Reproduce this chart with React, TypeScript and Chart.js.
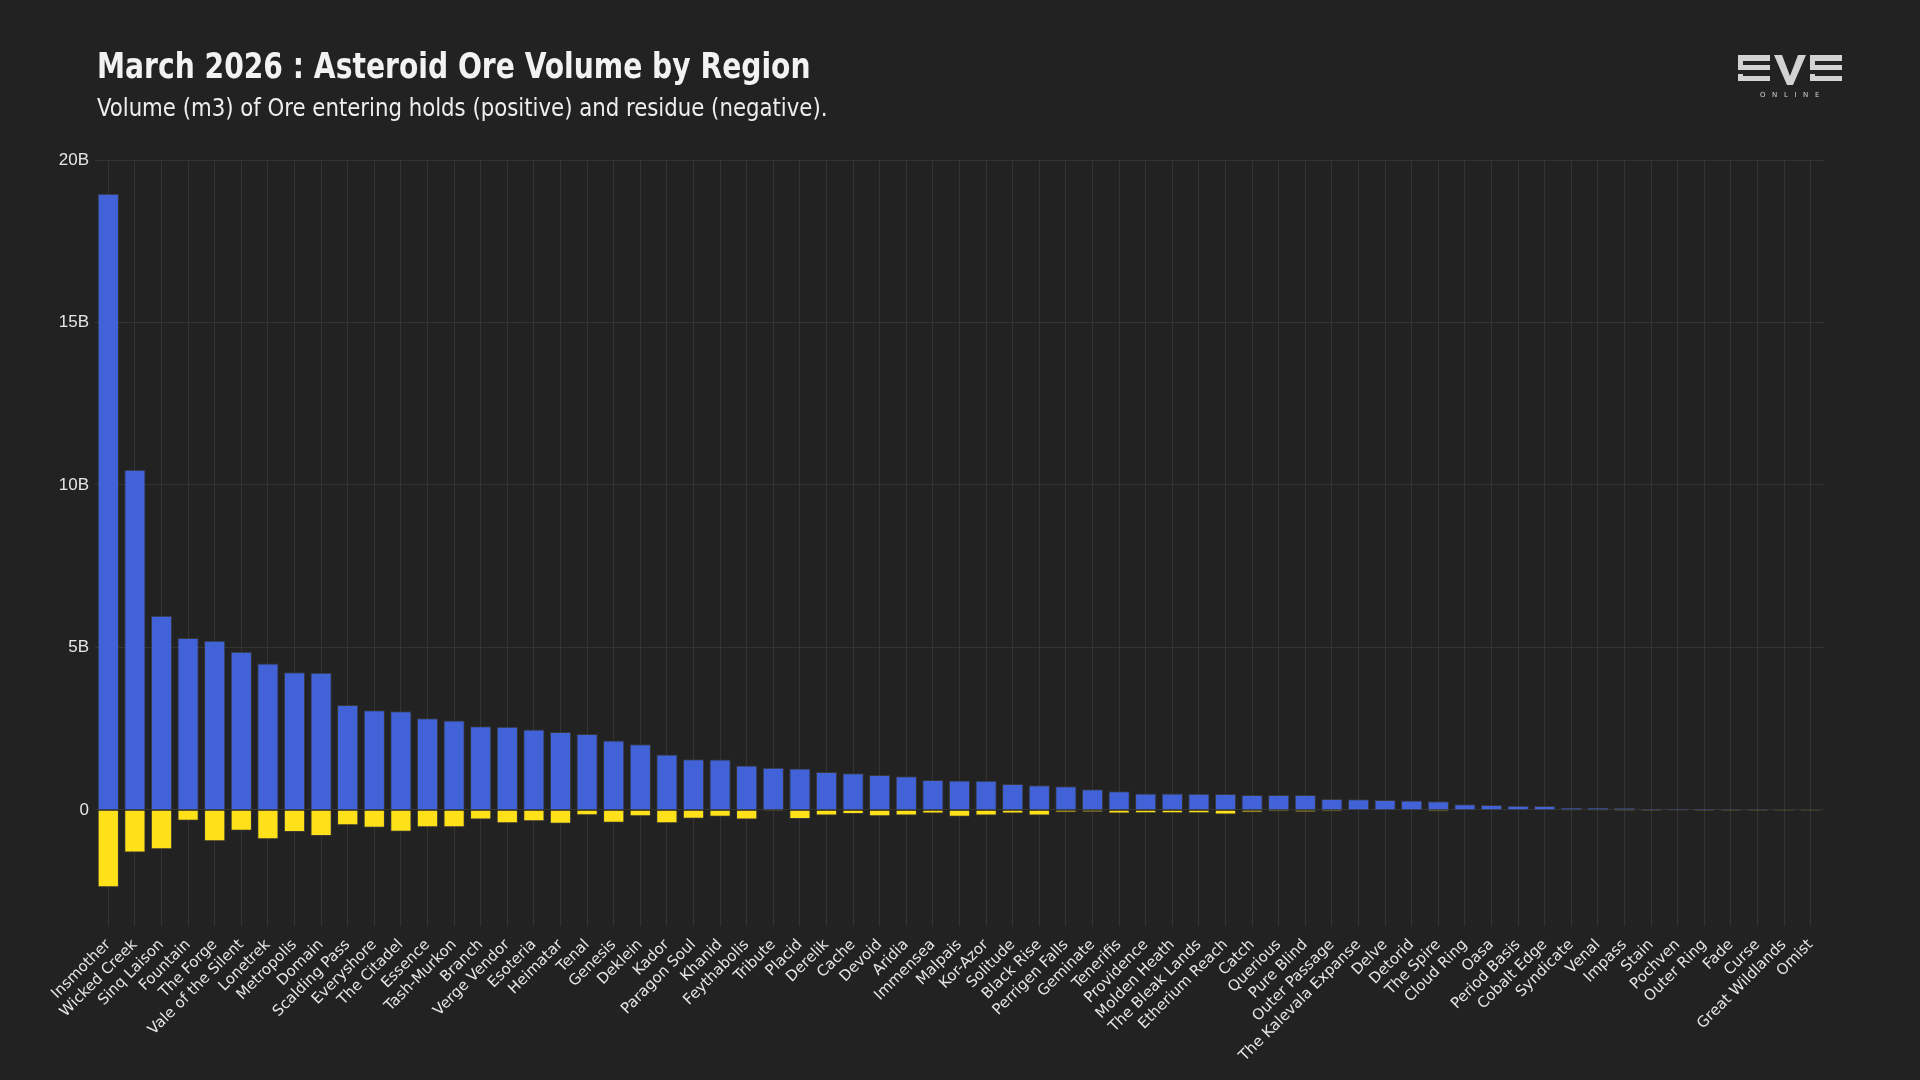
import React, { useEffect, useRef } from "react";
import Chart from "chart.js/auto";

// Regions, sorted by ore volume (m3) entering holds
const regions = [
  "Insmother", "Wicked Creek", "Sinq Laison", "Fountain", "The Forge", "Vale of the Silent",
  "Lonetrek", "Metropolis", "Domain", "Scalding Pass", "Everyshore", "The Citadel",
  "Essence", "Tash-Murkon", "Branch", "Verge Vendor", "Esoteria", "Heimatar",
  "Tenal", "Genesis", "Deklein", "Kador", "Paragon Soul", "Khanid",
  "Feythabolis", "Tribute", "Placid", "Derelik", "Cache", "Devoid",
  "Aridia", "Immensea", "Malpais", "Kor-Azor", "Solitude", "Black Rise",
  "Perrigen Falls", "Geminate", "Tenerifis", "Providence", "Molden Heath", "The Bleak Lands",
  "Etherium Reach", "Catch", "Querious", "Pure Blind", "Outer Passage", "The Kalevala Expanse",
  "Delve", "Detorid", "The Spire", "Cloud Ring", "Oasa", "Period Basis",
  "Cobalt Edge", "Syndicate", "Venal", "Impass", "Stain", "Pochven",
  "Outer Ring", "Fade", "Curse", "Great Wildlands", "Omist",
];

// Ore entering holds, billions of m3
const oreInBillions = [
  18.96, 10.47, 5.98, 5.29, 5.21, 4.87,
  4.51, 4.24, 4.22, 3.23, 3.07, 3.04,
  2.82, 2.75, 2.58, 2.56, 2.48, 2.40,
  2.34, 2.14, 2.02, 1.71, 1.56, 1.55,
  1.37, 1.30, 1.28, 1.17, 1.13, 1.08,
  1.04, 0.92, 0.91, 0.90, 0.80, 0.76,
  0.73, 0.64, 0.58, 0.51, 0.51, 0.50,
  0.49, 0.46, 0.46, 0.46, 0.34, 0.33,
  0.31, 0.29, 0.27, 0.18, 0.15, 0.13,
  0.12, 0.07, 0.07, 0.06, 0.04, 0.04,
  0.04, 0.03, 0.03, 0.015, 0.008,
];

// Residue, billions of m3 (negative)
const residueBillions = [
  -2.38, -1.31, -1.21, -0.33, -0.96, -0.64,
  -0.90, -0.68, -0.80, -0.47, -0.55, -0.67,
  -0.53, -0.53, -0.29, -0.41, -0.35, -0.42,
  -0.16, -0.39, -0.19, -0.41, -0.27, -0.21,
  -0.29, -0.03, -0.28, -0.17, -0.12, -0.19,
  -0.17, -0.11, -0.21, -0.17, -0.11, -0.17,
  -0.08, -0.07, -0.11, -0.10, -0.10, -0.10,
  -0.14, -0.08, -0.05, -0.07, -0.05, -0.015,
  -0.02, -0.02, -0.05, -0.01, -0.01, -0.02,
  -0.01, -0.005, -0.005, -0.004, -0.003, -0.006,
  -0.003, -0.002, -0.002, -0.001, -0.001,
];

const yTicksBillions = [0, 5, 10, 15, 20];
const yMinBillions = -3.57;
const yMaxBillions = 20;

const BG = "#222222";
const GRID = "#343434";
const LABEL = "#e6e6e6";

function EveLogo() {
  const c = "#d2d2d2";
  return (
    <svg
      width={110}
      height={46}
      viewBox="0 0 110 46"
      style={{ position: "absolute", left: 1737, top: 54 }}
    >
      {/* first E */}
      <rect x={1} y={1} width={32} height={6} fill={c} />
      <rect x={1} y={1} width={5} height={15} fill={c} />
      <rect x={6} y={11} width={27} height={5} fill={c} />
      <rect x={1} y={20} width={5} height={7} fill={c} />
      <rect x={1} y={22} width={32} height={5} fill={c} />
      {/* V */}
      <polygon points="37,1 45,1 53,22 61,1 69,1 56,31 50,31" fill={c} />
      {/* second E */}
      <rect x={73} y={1} width={32} height={6} fill={c} />
      <rect x={73} y={1} width={5} height={15} fill={c} />
      <rect x={78} y={11} width={27} height={5} fill={c} />
      <rect x={73} y={20} width={5} height={7} fill={c} />
      <rect x={73} y={22} width={32} height={5} fill={c} />
      <text
        x={56}
        y={43}
        textAnchor="middle"
        fill={c}
        fontFamily="DejaVu Sans, sans-serif"
        fontSize={7}
        letterSpacing={6.6}
      >
        ONLINE
      </text>
    </svg>
  );
}

export default function App() {
  const canvasRef = useRef<HTMLCanvasElement>(null);

  useEffect(() => {
    document.body.style.margin = "0";
    document.body.style.background = BG;
    const canvas = canvasRef.current;
    if (!canvas) return;

    const chart = new Chart(canvas, {
      type: "bar",
      data: {
        labels: regions,
        datasets: [
          {
            label: "Ore entering holds",
            data: oreInBillions.map((v) => v * 1e9),
            backgroundColor: "#4263d8",
            borderColor: "rgba(72,72,72,0.55)",
            borderWidth: 1,
            barPercentage: 1,
            categoryPercentage: 0.8,
          },
          {
            label: "Residue",
            data: residueBillions.map((v) => v * 1e9),
            backgroundColor: "#ffe119",
            borderColor: "rgba(72,72,72,0.55)",
            borderWidth: 1,
            barPercentage: 1,
            categoryPercentage: 0.8,
          },
        ],
      },
      options: {
        responsive: false,
        animation: false,
        layout: { padding: { left: 0, top: 160, right: 96, bottom: 0 } },
        plugins: {
          legend: { display: false },
          tooltip: { enabled: false },
        },
        scales: {
          x: {
            stacked: true,
            grid: { color: GRID, offset: false, drawTicks: false },
            border: { display: false },
            ticks: {
              color: LABEL,
              font: { family: "DejaVu Sans", size: 15 },
              autoSkip: false,
              minRotation: 45,
              maxRotation: 45,
              padding: 10,
            },
            afterFit: (scale: any) => {
              scale.height = 154;
            },
          },
          y: {
            stacked: true,
            min: yMinBillions * 1e9,
            max: yMaxBillions * 1e9,
            afterBuildTicks: (scale: any) => {
              scale.ticks = yTicksBillions.map((v) => ({ value: v * 1e9 }));
            },
            grid: { color: GRID, drawTicks: false },
            border: { display: false },
            ticks: {
              color: LABEL,
              font: { family: "Liberation Sans", size: 17 },
              padding: 6,
              callback: (value: any) => {
                const b = Number(value) / 1e9;
                return b === 0 ? "0" : `${b}B`;
              },
            },
            afterFit: (scale: any) => {
              scale.width = 95;
            },
          },
        },
      },
    });

    return () => chart.destroy();
  }, []);

  return (
    <div
      style={{
        position: "fixed",
        left: 0,
        top: 0,
        width: 1920,
        height: 1080,
        background: BG,
        overflow: "hidden",
      }}
    >
      <canvas
        ref={canvasRef}
        width={1920}
        height={1080}
        style={{ position: "absolute", left: 0, top: 0, width: 1920, height: 1080 }}
      />
      <div
        style={{
          position: "absolute",
          left: 97,
          top: 47.5,
          fontFamily: "'Liberation Sans Narrow', 'DejaVu Sans Condensed', sans-serif",
          fontWeight: 700,
          fontSize: 36,
          lineHeight: "36px",
          color: "#f2f2f2",
          whiteSpace: "nowrap",
          transform: "scaleX(0.87)",
          transformOrigin: "0 0",
        }}
      >
        March 2026 : Asteroid Ore Volume by Region
      </div>
      <div
        style={{
          position: "absolute",
          left: 97,
          top: 96.4,
          fontFamily: "'Liberation Sans Narrow', 'DejaVu Sans Condensed', sans-serif",
          fontWeight: 400,
          fontSize: 24,
          lineHeight: "24px",
          color: "#eeeeee",
          whiteSpace: "nowrap",
          transform: "scaleX(0.985)",
          transformOrigin: "0 0",
        }}
      >
        Volume (m3) of Ore entering holds (positive) and residue (negative).
      </div>
      <EveLogo />
    </div>
  );
}
